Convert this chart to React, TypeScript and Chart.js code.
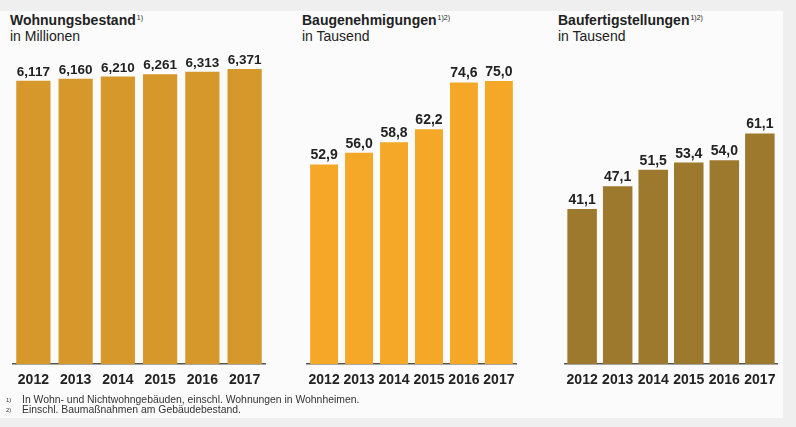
import React, { useEffect, useRef } from "react";
import { Chart, registerables } from "chart.js";

Chart.register(...registerables);

const years = ["2012", "2013", "2014", "2015", "2016", "2017"];
const stockValues = [6.117, 6.16, 6.21, 6.261, 6.313, 6.371];
const permitValues = [52.9, 56.0, 58.8, 62.2, 74.6, 75.0];
const completionValues = [41.1, 47.1, 51.5, 53.4, 54.0, 61.1];

const FONT = '"Liberation Sans", Arial, Helvetica, sans-serif';

const valueLabelPlugin = {
  id: "valueLabels",
  afterDatasetsDraw(chart: any) {
    const ctx = chart.ctx;
    const opts = chart.options.plugins.valueLabels;
    chart.data.datasets.forEach((ds: any, di: number) => {
      const meta = chart.getDatasetMeta(di);
      meta.data.forEach((bar: any, i: number) => {
        const txt = Number(ds.data[i]).toFixed(opts.decimals).replace(".", ",");
        ctx.save();
        ctx.font = `bold ${opts.size}px ${FONT}`;
        ctx.fillStyle = "#222";
        ctx.textAlign = "center";
        ctx.textBaseline = "alphabetic";
        ctx.fillText(txt, bar.x, bar.y - 5);
        ctx.restore();
      });
    });
  },
};

type PanelProps = {
  values: number[];
  color: string;
  max: number;
  decimals: number;
  left: number;
  width: number;
  barPct: number;
  labelSize: number;
};

const CANVAS_H = 347;

function BarPanel({ values, color, max, decimals, left, width, barPct, labelSize }: PanelProps) {
  const ref = useRef<HTMLCanvasElement | null>(null);
  useEffect(() => {
    if (!ref.current) return;
    const chart = new Chart(ref.current, {
      type: "bar",
      data: {
        labels: years,
        datasets: [
          {
            data: values,
            backgroundColor: color,
            borderWidth: 0,
            categoryPercentage: 1,
            barPercentage: barPct,
          },
        ],
      },
      options: {
        animation: false,
        responsive: false,
        maintainAspectRatio: false,
        layout: { padding: 0 },
        plugins: {
          legend: { display: false },
          tooltip: { enabled: false },
          title: { display: false },
          // @ts-ignore
          valueLabels: { decimals, size: labelSize },
        },
        scales: {
          y: { display: false, min: 0, max },
          x: {
            grid: { display: false, drawTicks: false },
            border: { display: true, color: "#555", width: 1.5 },
            ticks: {
              color: "#222",
              padding: 8,
              maxRotation: 0,
              minRotation: 0,
              autoSkip: false,
              font: { family: FONT, size: 14, weight: "bold" },
            },
          },
        },
      },
      plugins: [valueLabelPlugin],
    });
    return () => chart.destroy();
  }, []);
  return (
    <canvas
      ref={ref}
      width={width}
      height={CANVAS_H}
      style={{ position: "absolute", left, top: 50, width, height: CANVAS_H }}
    />
  );
}

function Title({ left, main, sup, sub }: { left: number; main: string; sup: string; sub: string }) {
  return (
    <div
      style={{
        position: "absolute",
        left,
        top: 12,
        fontFamily: FONT,
        fontSize: 14,
        lineHeight: "16px",
        color: "#222",
        whiteSpace: "nowrap",
      }}
    >
      <div style={{ fontWeight: "bold" }}>
        {main}
        <sup style={{ fontSize: 7, fontWeight: "normal", verticalAlign: "top", position: "relative", top: -2, marginLeft: 1 }}>{sup}</sup>
      </div>
      <div>{sub}</div>
    </div>
  );
}

export default function App() {
  return (
    <div
      style={{
        position: "fixed",
        left: 0,
        top: 0,
        width: 796,
        height: 427,
        background: "#efefef",
        overflow: "hidden",
      }}
    >
      <div style={{ position: "absolute", left: 0, top: 11, width: 783, height: 407, background: "#fbfbfb" }} />
      <Title left={10} main="Wohnungsbestand" sup="1)" sub="in Millionen" />
      <Title left={302} main="Baugenehmigungen" sup="1)2)" sub="in Tausend" />
      <Title left={558} main="Baufertigstellungen" sup="1)2)" sub="in Tausend" />
      <BarPanel values={stockValues} color="#d6982a" max={312 / 46} decimals={3} left={10} width={258} barPct={0.81} labelSize={13.5} />
      <BarPanel values={permitValues} color="#f5a828" max={312 / 3.75} decimals={1} left={301} width={221} barPct={0.8} labelSize={14} />
      <BarPanel values={completionValues} color="#9d792e" max={312 / 3.75} decimals={1} left={559} width={224} barPct={0.83} labelSize={14} />
      <div
        style={{
          position: "absolute",
          left: 6,
          top: 395,
          fontFamily: FONT,
          fontSize: 10.4,
          lineHeight: "10px",
          color: "#333",
          whiteSpace: "nowrap",
        }}
      >
        <div>
          <span style={{ fontSize: 6, verticalAlign: "top", display: "inline-block", width: 16 }}>1)</span>
          In Wohn- und Nichtwohngebäuden, einschl. Wohnungen in Wohnheimen.
        </div>
        <div>
          <span style={{ fontSize: 6, verticalAlign: "top", display: "inline-block", width: 16 }}>2)</span>
          Einschl. Baumaßnahmen am Gebäudebestand.
        </div>
      </div>
    </div>
  );
}
